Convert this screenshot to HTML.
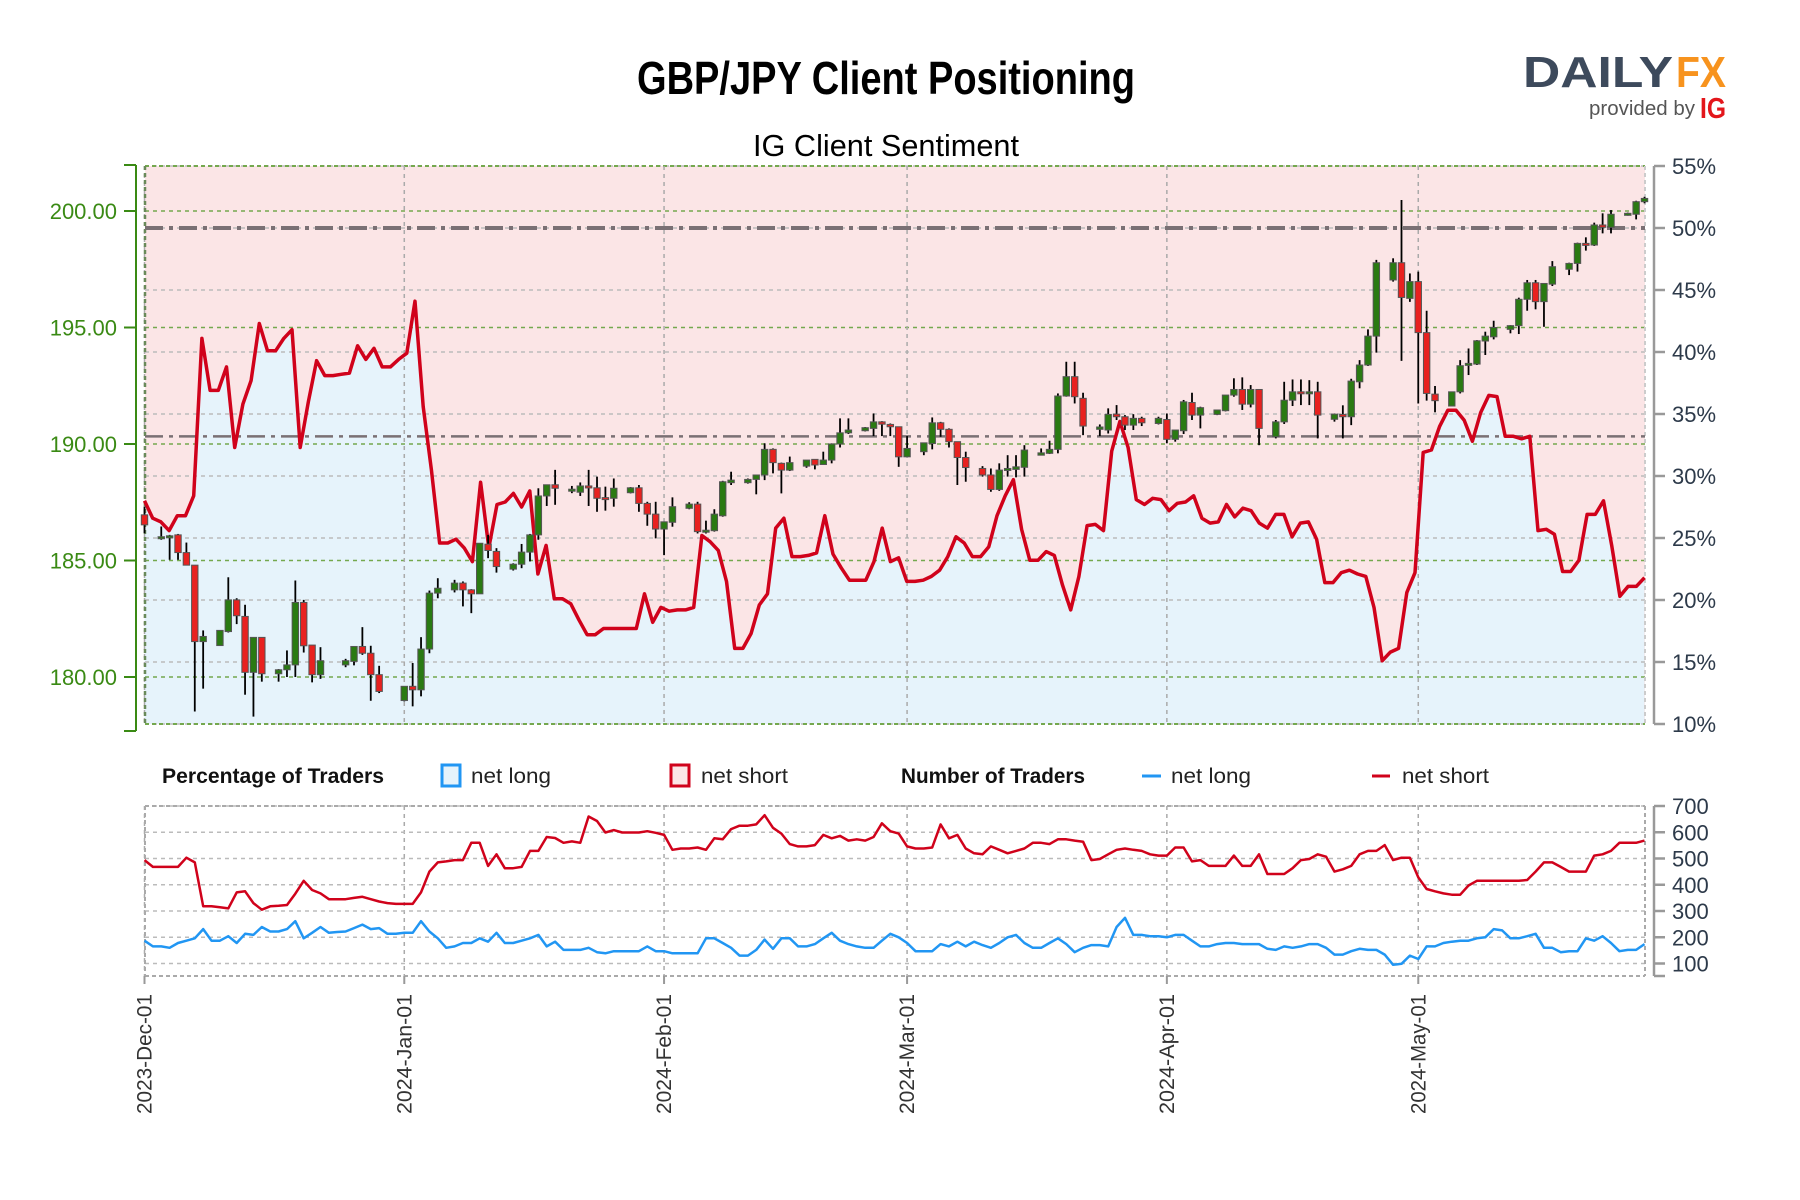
<!DOCTYPE html>
<html><head><meta charset="utf-8"><style>
html,body{margin:0;padding:0;background:#fff;}
svg{display:block;font-family:"Liberation Sans",sans-serif;}
</style></head><body>
<svg id="chart" width="1800" height="1200" viewBox="0 0 1800 1200">
<text x="886" y="94" text-anchor="middle" font-size="46" font-weight="bold" textLength="498" lengthAdjust="spacingAndGlyphs" fill="#000">GBP/JPY Client Positioning</text>
<text x="886" y="156" text-anchor="middle" font-size="31" textLength="266" lengthAdjust="spacingAndGlyphs" fill="#000">IG Client Sentiment</text>
<g>
<text x="1523" y="87" font-size="44" font-weight="bold" textLength="150" lengthAdjust="spacingAndGlyphs" fill="#3d4a5c">DAILY</text>
<text x="1676" y="87" font-size="44" font-weight="bold" textLength="50" lengthAdjust="spacingAndGlyphs" fill="#f7931e">FX</text>
<text x="1589" y="115" font-size="20" textLength="106" lengthAdjust="spacingAndGlyphs" fill="#555">provided by</text>
<text x="1700" y="118" font-size="29" font-weight="bold" textLength="26" lengthAdjust="spacingAndGlyphs" fill="#e3161b">IG</text>
</g>
<g id="main"></g>
<g id="lower"></g>
<g>
<text x="162" y="783" font-size="21" font-weight="bold" textLength="222" lengthAdjust="spacingAndGlyphs" fill="#111">Percentage of Traders</text>
<rect x="442" y="765" width="18" height="21" fill="#e6f3fb" stroke="#2196f3" stroke-width="3"/>
<text x="471" y="783" font-size="21" textLength="80" lengthAdjust="spacingAndGlyphs" fill="#222">net long</text>
<rect x="671" y="765" width="18" height="21" fill="#fbe5e6" stroke="#d0021b" stroke-width="3"/>
<text x="701" y="783" font-size="21" textLength="87" lengthAdjust="spacingAndGlyphs" fill="#222">net short</text>
<text x="901" y="783" font-size="21" font-weight="bold" textLength="184" lengthAdjust="spacingAndGlyphs" fill="#111">Number of Traders</text>
<line x1="1142" y1="776" x2="1161" y2="776" stroke="#2196f3" stroke-width="3"/>
<text x="1171" y="783" font-size="21" textLength="80" lengthAdjust="spacingAndGlyphs" fill="#222">net long</text>
<line x1="1372" y1="776" x2="1390" y2="776" stroke="#d0021b" stroke-width="3"/>
<text x="1402" y="783" font-size="21" textLength="87" lengthAdjust="spacingAndGlyphs" fill="#222">net short</text>
</g>
</svg>
<script>
// ---- data ----
const monthLabels = ["2023-Dec-01","2024-Jan-01","2024-Feb-01","2024-Mar-01","2024-Apr-01","2024-May-01"];
const monthDays = [0,31,62,91,122,152];
const priceTicks = [180,185,190,195,200];
const pctTicks = [10,15,20,25,30,35,40,45,50,55];
const countTicks = [100,200,300,400,500,600,700];
const refPctLevels = [50,33.2];
// net long % (daily, spread evenly across the date range)
const netLongPct = [28.0,26.6,26.3,25.6,26.8,26.8,28.4,41.1,36.9,36.9,38.8,32.3,35.8,37.7,42.3,40.1,40.1,41.1,41.8,32.3,36.0,39.3,38.1,38.1,38.2,38.3,40.5,39.4,40.3,38.8,38.8,39.4,39.9,44.1,35.6,30.5,24.6,24.6,24.9,24.2,23.1,29.5,24.2,27.7,27.9,28.6,27.5,28.8,22.1,24.4,20.1,20.1,19.7,18.4,17.2,17.2,17.7,17.7,17.7,17.7,17.7,20.5,18.2,19.4,19.1,19.2,19.2,19.4,25.2,24.7,24.0,21.5,16.1,16.1,17.3,19.6,20.5,25.8,26.6,23.5,23.5,23.6,23.8,26.8,23.7,22.6,21.6,21.6,21.6,23.1,25.8,23.1,23.4,21.5,21.5,21.6,21.9,22.4,23.5,25.1,24.6,23.5,23.5,24.3,26.8,28.4,29.7,25.7,23.2,23.2,23.9,23.6,21.2,19.2,21.9,26.0,26.1,25.6,32.0,34.4,32.3,28.1,27.7,28.2,28.1,27.2,27.8,27.9,28.4,26.6,26.2,26.3,27.7,26.7,27.4,27.2,26.2,25.8,26.9,26.9,25.1,26.2,26.3,24.9,21.4,21.4,22.2,22.4,22.1,21.9,19.4,15.1,15.8,16.1,20.6,22.2,31.9,32.1,34.0,35.3,35.3,34.5,32.8,35.1,36.5,36.4,33.2,33.2,33.0,33.2,25.6,25.7,25.3,22.3,22.3,23.2,26.9,26.9,28.0,24.4,20.3,21.1,21.1,21.8];
const pctLastDay = 179;
// candles: day, open, high, low, close
const candleDays = [0,2,3,4,5,6,7,9,10,11,12,13,14,16,17,18,19,20,21,24,25,26,27,28,31,32,33,34,35,37,38,39,40,41,42,44,45,46,47,48,49,51,52,53,54,55,56,58,59,60,61,62,63,65,66,67,68,69,70,72,73,74,75,76,77,79,80,81,82,83,84,86,87,88,89,90,91,93,94,95,96,97,98,100,101,102,103,104,105,107,108,109,110,111,112,114,115,116,117,118,119,121,122,123,124,125,126,128,129,130,131,132,133,135,136,137,138,139,140,142,143,144,145,146,147,149,150,151,152,153,154,156,157,158,159,160,161,163,164,165,166,167,168,170,171,172,173,174,175,177,178,179];
const candleOpen = [186.96,185.98,186.06,186.1,185.34,184.8,181.52,181.35,181.95,183.31,182.6,180.2,181.7,180.14,180.31,180.52,183.2,181.37,180.1,180.52,180.67,181.31,181.02,180.1,178.99,179.6,179.45,181.2,183.6,183.74,184.03,183.74,183.57,185.7,185.39,184.63,184.84,185.36,186.1,187.77,188.25,188.06,187.93,188.2,188.12,187.7,187.67,187.91,188.12,187.45,186.99,186.35,186.64,187.24,187.42,186.3,186.28,186.92,188.34,188.34,188.48,188.67,189.77,189.17,188.88,189.05,189.34,189.12,189.31,190.0,190.48,190.57,190.67,190.95,190.84,190.74,189.45,189.67,190.02,190.91,190.63,190.1,189.42,188.95,188.67,188.05,188.88,188.91,189.0,189.52,189.6,189.77,192.06,192.89,191.96,190.63,190.6,191.28,191.17,190.81,191.1,190.88,191.05,190.2,190.57,191.78,191.24,191.27,191.43,192.1,192.34,191.71,192.34,190.31,190.95,191.88,192.24,192.17,192.24,191.06,191.27,191.17,192.67,193.39,194.63,197.04,197.78,196.25,196.97,194.78,192.14,191.63,192.24,193.39,193.43,194.42,194.6,194.92,195.08,196.21,196.92,196.11,196.86,197.5,197.75,198.61,198.54,199.4,199.3,199.83,199.86,200.4];
const candleHigh = [187.32,186.46,186.1,186.14,185.77,184.8,182.0,182.0,184.28,183.38,183.1,181.7,181.7,180.34,181.14,184.14,183.31,181.37,181.28,180.78,181.31,182.14,181.34,180.48,179.6,180.6,181.71,183.71,184.24,184.17,184.1,183.77,185.74,186.1,185.53,184.88,185.71,186.14,188.1,188.25,188.89,188.2,188.35,188.89,188.6,188.17,188.52,188.15,188.24,187.52,187.52,186.66,187.71,187.5,187.52,186.71,187.2,188.42,188.81,188.52,188.67,190.03,189.81,189.2,189.46,189.31,189.34,189.67,190.03,191.1,191.1,190.73,191.31,190.98,190.88,190.74,190.34,190.05,191.14,190.95,190.67,190.1,189.67,189.05,188.95,189.17,189.52,189.52,189.95,189.81,190.14,192.17,193.53,193.53,192.2,190.84,191.53,191.67,191.24,191.28,191.17,191.17,191.31,190.6,191.89,192.2,191.6,191.46,192.1,192.82,192.86,192.53,192.34,191.03,192.67,192.77,192.77,192.74,192.67,191.31,191.66,192.8,193.6,194.92,197.9,197.97,200.47,197.32,197.4,195.72,192.49,192.24,193.6,194.1,194.46,194.82,195.29,195.1,196.28,197.04,197.04,196.89,197.85,197.78,198.64,198.87,199.5,199.9,200.04,199.93,200.44,200.61];
const candleLow = [186.17,185.89,185.03,185.03,184.8,178.52,179.5,181.35,181.91,182.27,179.24,178.3,179.8,179.8,180.0,180.0,181.05,179.77,179.92,180.42,180.5,180.95,178.98,179.31,178.95,178.74,179.17,181.02,183.38,183.63,183.03,182.74,183.57,185.1,184.48,184.57,184.67,184.96,185.89,187.34,187.39,187.89,187.77,187.34,187.09,187.14,187.31,187.88,187.09,186.49,185.95,185.23,186.45,187.2,186.16,186.16,186.24,186.88,188.24,188.3,187.84,188.45,188.74,187.88,188.84,188.98,188.91,189.1,189.17,189.85,190.43,190.54,190.34,190.34,190.34,189.02,189.45,189.52,189.77,190.31,189.85,188.24,188.38,188.6,187.95,187.99,188.6,188.57,188.6,189.52,189.57,189.6,192.03,191.74,190.38,190.34,190.45,191.03,190.6,190.6,190.77,190.84,190.03,190.1,190.43,191.03,190.67,191.24,191.4,192.03,191.46,191.57,189.95,190.24,190.86,191.63,191.67,191.67,190.24,190.96,190.24,190.81,192.39,193.35,193.92,196.97,193.57,196.1,191.74,191.86,191.36,191.63,192.17,192.96,193.39,193.82,194.49,194.75,194.72,195.72,195.78,195.03,196.78,197.25,197.4,198.3,198.5,199.04,199.04,199.8,199.64,200.33];
const candleClose = [186.53,186.02,186.06,185.34,184.8,181.52,181.74,182.0,183.31,182.63,180.2,181.7,180.14,180.31,180.52,183.2,181.34,180.1,180.7,180.7,181.31,181.02,180.1,179.38,179.6,179.45,181.2,183.6,183.81,184.03,183.74,183.57,185.74,185.43,184.74,184.84,185.36,186.1,187.77,188.25,188.1,188.06,188.2,188.14,187.67,187.69,188.1,188.12,187.45,186.99,186.35,186.66,187.31,187.42,186.24,186.3,186.99,188.38,188.45,188.48,188.67,189.77,189.2,188.88,189.2,189.31,189.1,189.31,190.0,190.48,190.6,190.7,190.95,190.85,190.74,189.45,189.81,190.05,190.91,190.63,190.1,189.42,188.99,188.67,188.05,188.88,188.95,189.02,189.74,189.62,189.77,192.06,192.89,192.03,190.77,190.73,191.27,191.17,190.81,191.1,190.91,191.1,190.2,190.6,191.81,191.24,191.56,191.46,192.1,192.34,191.71,192.34,190.67,190.95,191.88,192.24,192.17,192.24,191.24,191.28,191.17,192.7,193.39,194.63,197.78,197.78,196.29,196.97,194.78,192.17,191.86,192.24,193.36,193.46,194.43,194.63,195.0,195.08,196.21,196.92,196.11,196.89,197.61,197.75,198.61,198.54,199.4,199.3,199.86,199.9,200.4,200.54];
// trader counts (daily)
const shortCount = [494,468,468,468,468,503,485,318,318,314,310,371,375,330,305,318,320,323,366,415,380,367,345,345,345,350,354,345,336,330,327,327,327,371,450,485,489,494,494,560,560,472,516,463,463,468,529,529,582,578,560,565,560,660,643,599,608,599,599,599,604,598,590,533,538,538,542,533,577,573,612,625,625,630,665,617,595,555,546,546,551,590,577,586,568,573,568,582,634,604,595,546,538,538,542,630,577,590,538,520,516,546,533,520,529,538,560,560,555,573,573,568,564,494,498,516,533,538,533,529,516,511,511,542,542,489,494,472,472,472,511,472,472,516,441,441,441,463,494,498,516,507,450,459,472,516,529,529,551,494,503,503,428,384,375,367,362,362,397,415,415,415,415,415,415,418,450,485,485,468,450,450,450,511,516,529,560,560,560,568];
const longCount = [187,165,165,160,178,187,196,231,187,187,204,178,213,209,239,222,222,231,261,196,217,239,217,220,222,235,248,231,235,213,213,217,217,261,222,196,160,165,178,178,196,183,217,178,178,187,196,209,165,183,152,152,152,160,143,139,147,147,147,147,165,147,147,139,139,139,139,196,196,178,160,130,130,152,191,156,196,196,165,165,174,196,217,187,174,165,160,160,187,213,200,178,147,147,147,174,165,183,165,183,170,160,178,200,209,178,160,160,178,196,174,143,160,170,170,165,239,274,209,209,204,204,200,209,209,187,165,165,174,178,178,174,174,174,156,152,165,160,165,174,174,160,134,134,147,156,152,152,134,95,99,130,117,165,165,178,183,187,187,196,200,231,226,196,196,204,213,160,160,143,147,147,196,187,204,178,147,152,152,174];

// ---- layout / scales ----
const NS = "http://www.w3.org/2000/svg";
const L = 145, R = 1645, T = 166, B = 724;
const LT = 806, LB = 976;
const dayX = d => 144.5 + d * 8.38;
const priceY = p => 211 + (200 - p) * 23.3;
const pctY = v => 166 + (55 - v) * 12.4;
const countY = v => 806 + (700 - v) * 0.2625;
function mk(parent, tag, attrs) {
  const e = document.createElementNS(NS, tag);
  for (const k in attrs) e.setAttribute(k, attrs[k]);
  parent.appendChild(e);
  return e;
}
const main = document.getElementById('main');
const lower = document.getElementById('lower');

const pts = netLongPct.map((v, i) => [dayX(i * pctLastDay / (netLongPct.length - 1)), pctY(v)]);
const lineStr = pts.map(p => p[0].toFixed(1) + "," + p[1].toFixed(1)).join(" ");
const bg = mk(main, 'rect', {x: L, y: T, width: R - L, height: B - T, fill: '#fbe5e6'});


const blue = mk(main, 'polygon', {points: `${dayX(0)},${B} ${lineStr} ${pts[pts.length-1][0]},${B}`, fill: '#e6f3fb'});


const blueFill = mk(main, 'rect', {x: L, y: pctY(netLongPct[0]), width: dayX(0) - L + 0.5, height: B - pctY(netLongPct[0]), fill: '#e6f3fb'});



pctTicks.forEach(t => {
  const g = mk(main, 'line', {x1: L, x2: R, y1: pctY(t), y2: pctY(t), stroke: '#bbb', 'stroke-width': 1.5, 'stroke-dasharray': '4,4'});
  
  
});
priceTicks.forEach(t => {
  const g = mk(main, 'line', {x1: L, x2: R, y1: priceY(t), y2: priceY(t), stroke: '#74a84e', 'stroke-width': 1.5, 'stroke-dasharray': '4,4'});
  
  
});
[T, B].forEach(y => {
  const g = mk(main, 'line', {x1: L, x2: R, y1: y, y2: y, stroke: '#74a84e', 'stroke-width': 2, 'stroke-dasharray': '4,3'});
  
  
});
monthDays.forEach(d => {
  const g = mk(main, 'line', {x1: dayX(d), x2: dayX(d), y1: T, y2: B, stroke: '#aaa', 'stroke-width': 1.5, 'stroke-dasharray': '4,4'});
  
  
  const g2 = mk(lower, 'line', {x1: dayX(d), x2: dayX(d), y1: LT, y2: LB, stroke: '#aaa', 'stroke-width': 1.5, 'stroke-dasharray': '4,4'});
  
  
});
const lb = mk(main, 'line', {x1: L, x2: L, y1: T, y2: B, stroke: '#6a8a5a', 'stroke-width': 2.5, 'stroke-dasharray': '4,3'});


const rb = mk(main, 'line', {x1: R, x2: R, y1: T, y2: B, stroke: '#ccc', 'stroke-width': 2, 'stroke-dasharray': '4,3'});



refPctLevels.forEach((v, i) => {
  const g = mk(main, 'line', {x1: L, x2: R, y1: pctY(v), y2: pctY(v), stroke: '#7a7074', 'stroke-width': i === 0 ? 4 : 2.5, 'stroke-dasharray': '18,6,4,6'});
  
  
});

const sl = mk(main, 'polyline', {points: lineStr, fill: 'none', stroke: '#d0021b', 'stroke-width': 3.5, 'stroke-linejoin': 'round'});



candleDays.forEach((d, i) => {
  const o = candleOpen[i], c = candleClose[i], h = candleHigh[i], lo = candleLow[i];
  const x = dayX(d);
  const w = mk(main, 'line', {x1: x, x2: x, y1: priceY(h), y2: priceY(lo), stroke: '#000', 'stroke-width': 1.8});
  
  
  const top = priceY(Math.max(o, c)), bot = priceY(Math.min(o, c));
  const b = mk(main, 'rect', {x: x - 3.2, y: top, width: 6.4, height: Math.max(bot - top, 2), fill: c >= o ? '#2a7a12' : '#e8211f', stroke: '#555', 'stroke-width': 1});
  
  
});

const la = mk(main, 'line', {x1: 136, x2: 136, y1: T - 1, y2: B + 7, stroke: '#3a8a14', 'stroke-width': 2});


[T - 1, B + 7].forEach(y => {
  const t = mk(main, 'line', {x1: 124, x2: 136, y1: y, y2: y, stroke: '#3a8a14', 'stroke-width': 2});
  
  
});
priceTicks.forEach(t => {
  const tk = mk(main, 'line', {x1: 124, x2: 136, y1: priceY(t), y2: priceY(t), stroke: '#3a8a14', 'stroke-width': 2});
  
  
  const tx = mk(main, 'text', {x: 117, y: priceY(t) + 8, 'text-anchor': 'end', 'font-size': 22, fill: '#3a8a14'});
  tx.textContent = t.toFixed(2);
  
  
});
const ra = mk(main, 'line', {x1: 1654, x2: 1654, y1: T, y2: B, stroke: '#999', 'stroke-width': 2.5});


pctTicks.forEach(t => {
  const tk = mk(main, 'line', {x1: 1654, x2: 1665, y1: pctY(t), y2: pctY(t), stroke: '#999', 'stroke-width': 2.5});
  
  
  const tx = mk(main, 'text', {x: 1672, y: pctY(t) + 8, 'font-size': 22, fill: '#2d3a4a'});
  tx.textContent = t + "%";
  
  
});

countTicks.forEach(t => {
  const g = mk(lower, 'line', {x1: L, x2: R, y1: countY(t), y2: countY(t), stroke: '#bbb', 'stroke-width': 1.5, 'stroke-dasharray': '4,4'});
  
  
  const tk = mk(lower, 'line', {x1: 1654, x2: 1665, y1: countY(t), y2: countY(t), stroke: '#999', 'stroke-width': 2.5});
  
  
  const tx = mk(lower, 'text', {x: 1672, y: countY(t) + 8, 'font-size': 22, fill: '#2d3a4a'});
  tx.textContent = t;
  
  
});
[[L, LT, R, LT], [L, LB, R, LB], [L, LT, L, LB], [R, LT, R, LB]].forEach(a => {
  const g = mk(lower, 'line', {x1: a[0], y1: a[1], x2: a[2], y2: a[3], stroke: '#aaa', 'stroke-width': 2, 'stroke-dasharray': '4,3'});
  
  
});
const lra = mk(lower, 'line', {x1: 1654, x2: 1654, y1: LT, y2: LB, stroke: '#999', 'stroke-width': 2.5});


const lbt = mk(lower, 'line', {x1: 1654, x2: 1665, y1: LB, y2: LB, stroke: '#999', 'stroke-width': 2.5});


const sc = mk(lower, 'polyline', {points: shortCount.map((v, i) => dayX(i).toFixed(1) + "," + countY(v).toFixed(1)).join(" "), fill: 'none', stroke: '#d0021b', 'stroke-width': 2.5, 'stroke-linejoin': 'round'});


const lc = mk(lower, 'polyline', {points: longCount.map((v, i) => dayX(i).toFixed(1) + "," + countY(v).toFixed(1)).join(" "), fill: 'none', stroke: '#2196f3', 'stroke-width': 2.5, 'stroke-linejoin': 'round'});



monthDays.forEach((d, i) => {
  const x = dayX(d);
  const tk = mk(lower, 'line', {x1: x, x2: x, y1: LB, y2: LB + 8, stroke: '#999', 'stroke-width': 2});
  
  
  const tx = mk(lower, 'text', {x: x + 7, y: 994, 'text-anchor': 'end', 'font-size': 21, fill: '#333', transform: `rotate(-90 ${x + 7} 994)`, textLength: 120, lengthAdjust: 'spacingAndGlyphs'});
  tx.textContent = monthLabels[i];
  
  
});
</script>
</body></html>
